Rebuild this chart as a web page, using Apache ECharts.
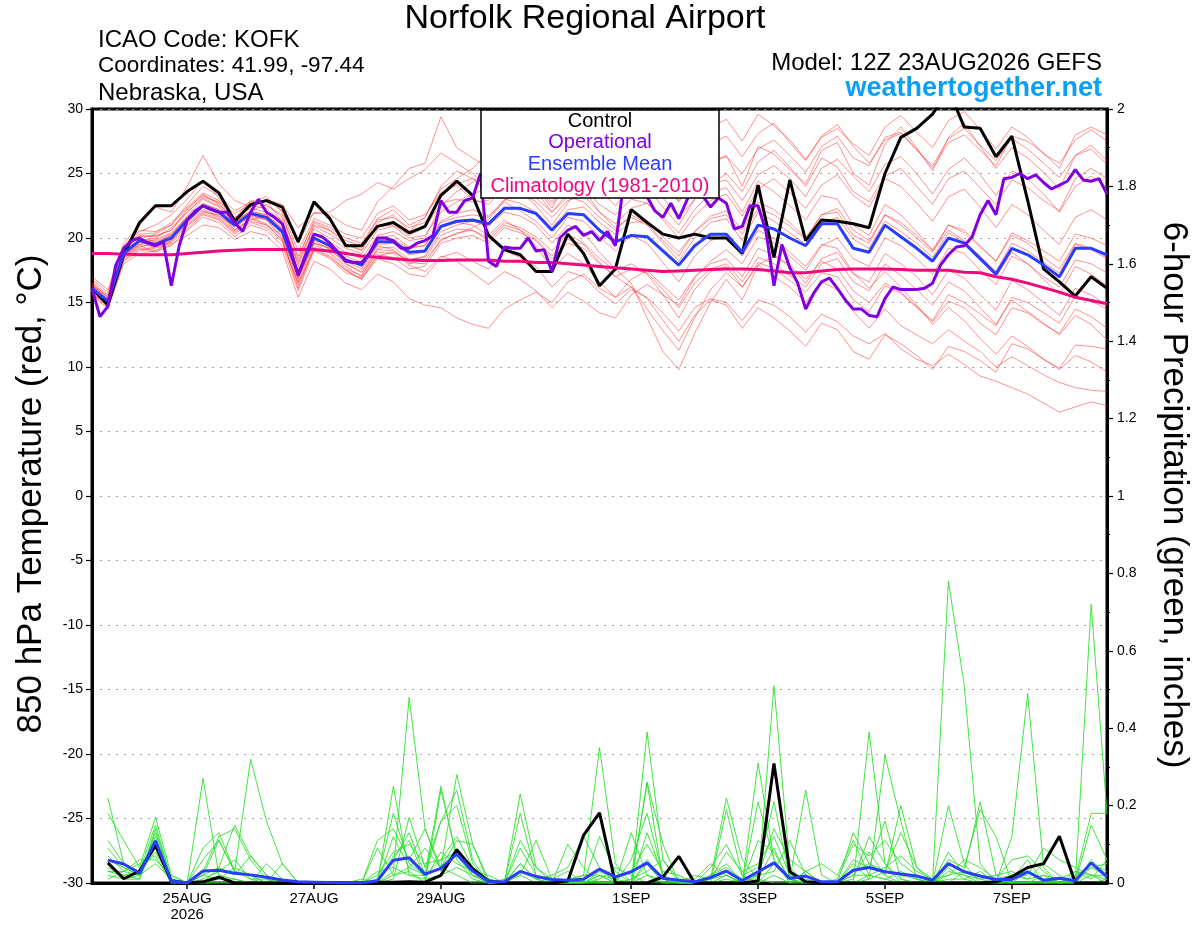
<!DOCTYPE html>
<html><head><meta charset="utf-8">
<script src="https://cdn.jsdelivr.net/npm/echarts@6.0.0/dist/echarts.min.js"></script>
<style>html,body{margin:0;padding:0;background:#fff}#chart{width:1200px;height:927px}</style>
</head><body><div id="chart"></div>
<script>
// ---- tick labels (hours after 12Z 23AUG2026) ----
const tickHours = [36, 84, 132, 204, 252, 300, 348];
const tickLabels = ['25AUG\n2026', '27AUG', '29AUG', '1SEP', '3SEP', '5SEP', '7SEP'];

// ---- 850 hPa temperature, 6-hourly (65 values, 0..384 h) ----
const control = [16.1,14.8,18.7,21.2,22.5,22.5,23.6,24.4, 23.5,21.3,22.6,22.9,22.4,19.7,22.8,21.5,
  19.4,19.4,20.9,21.2,20.4,20.9,23.3,24.4, 23.3,20.2,19.1,18.7,17.4,17.4,20.3,18.8,
  16.3,17.6,22.2,21.2,20.3,20.0,20.3,20.0, 20.0,18.8,24.1,18.5,24.5,19.8,21.4,21.3,
  21.1,20.8,25.0,27.8,28.5,29.6,31.5,28.6, 28.5,26.3,27.9,22.9,17.6,16.6,15.5,17.0, 16.1];
const ensMean = [16.1,15.1,18.8,19.8,19.5,20.0,21.4,22.5, 22.0,21.0,21.9,21.6,20.5,17.2,20.0,19.4,
  18.3,17.9,19.7,19.7,18.9,19.0,20.9,21.3, 21.4,21.1,22.3,22.3,21.9,20.6,21.9,21.8,
  20.6,19.7,20.2,20.1,19.0,17.9,19.4,20.3, 20.3,18.9,21.0,20.7,20.0,19.4,21.1,21.1,
  19.2,18.9,21.0,20.1,19.2,18.2,20.0,19.6, 18.4,17.2,19.2,18.7,17.9,17.0,19.2,19.2, 18.7];
const climatology = [18.8,18.8,18.75,18.7,18.7,18.7,18.8,18.9, 19.0,19.05,19.1,19.1,19.1,19.1,19.1,19.0,
  18.8,18.6,18.5,18.4,18.3,18.25,18.25,18.3, 18.3,18.3,18.2,18.2,18.1,18.1,18.0,17.9,
  17.8,17.7,17.6,17.5,17.4,17.45,17.5,17.55, 17.6,17.6,17.55,17.45,17.3,17.3,17.45,17.55,
  17.6,17.6,17.6,17.55,17.5,17.5,17.5,17.35, 17.3,17.0,16.8,16.5,16.15,15.8,15.4,15.15, 14.9];
// operational run, 3-hourly (129 values)
const operational = [16.1,13.9,14.7,17.9,19.2,19.8,20.0,19.6,19.4,19.7,16.3,19.4,21.4,22.1,22.5,22.2,
  22.0,22.0,21.2,20.5,22.0,23.0,22.0,21.6,21.1,19.2,17.1,18.8,20.3,20.1,19.6,18.9,
  18.2,18.1,18.1,18.8,20.0,20.0,19.8,19.2,19.2,19.6,19.8,20.2,22.9,22.0,22.0,22.9,
  23.1,25.0,18.2,17.8,19.3,19.2,19.2,20.0,19.0,19.1,17.4,20.0,20.6,20.9,20.2,20.5,
  19.8,20.5,19.4,24.0,25.5,25.0,23.2,22.1,21.6,22.7,21.5,22.9,24.0,23.3,22.4,23.1,
  22.7,20.7,20.9,22.5,22.5,20.5,16.3,19.5,17.7,16.5,14.5,15.7,16.6,16.9,16.1,15.2,
  14.5,14.5,14.0,13.9,15.3,16.2,16.0,16.0,16.0,16.1,16.5,17.9,18.7,19.3,19.4,20.1,
  21.8,22.9,21.8,24.6,24.7,25.0,24.6,24.9,24.3,23.8,24.1,24.4,25.3,24.5,24.4,24.6, 23.4];

// ensemble members (temperature)
const tm01 = [16.5,15.4,19.2,20.5,21.0,21.8,23.0,24.5, 23.1,21.5,22.4,22.9,21.2,18.0,21.0,20.6, 19.5,19.0,21.2,21.8,20.5,21.6,24.0,25.2, 24.6,23.5,25.8,26.1,24.9,23.2,25.0,26.4, 25.1,23.8,24.6,26.0,24.2,22.8,24.5,25.8, 26.4,24.0,27.1,26.5,25.3,24.2,26.8,27.4, 25.0,24.1,27.3,28.6,27.0,25.2,27.8,28.9, 27.1,25.4,27.0,26.2,25.1,23.8,26.4,27.2, 26.0];
const tm02 = [15.7,14.6,18.2,19.0,19.2,19.6,20.7,21.8, 21.4,20.3,21.2,20.8,19.7,16.5,19.1,18.5, 17.5,16.8,18.4,18.0,17.2,17.0,18.5,18.9, 18.2,17.6,19.0,18.5,17.8,16.2,17.4,17.0, 15.8,14.9,16.0,15.4,14.2,12.8,14.6,15.3, 15.0,13.6,15.2,14.8,13.9,12.7,14.1,13.5, 12.4,11.8,12.6,11.4,10.6,10.1,11.0,10.2, 9.3,8.9,8.4,7.9,7.2,6.5,6.9,7.3, 7.0];
const tm03 = [16.0,15.0,18.5,19.4,19.0,19.8,21.0,22.0, 21.8,20.6,21.5,21.0,20.2,17.0,19.6,19.2, 18.0,17.4,19.4,19.1,18.0,18.3,19.8,20.4, 20.6,20.0,21.2,20.8,20.1,19.0,20.3,19.6, 18.4,17.5,18.0,17.2,15.6,13.8,16.0,17.4, 17.8,16.2,17.9,17.0,16.2,15.0,16.6,16.0, 14.3,13.0,14.5,13.2,12.5,11.8,12.9,12.0, 11.2,10.0,10.8,10.1,9.4,8.8,8.4,8.2, 8.1];
const tm04 = [16.3,15.3,19.0,20.2,20.1,20.6,22.2,23.4, 22.6,21.6,22.3,22.0,21.4,17.8,20.7,20.0, 19.2,18.8,20.6,20.9,20.0,20.2,22.0,22.8, 23.4,23.9,24.6,24.0,23.1,22.0,23.5,23.9, 22.6,21.8,23.0,22.7,21.6,20.4,22.2,23.5, 23.9,22.0,24.4,23.6,22.5,21.4,23.3,23.0, 21.0,20.2,22.6,21.8,20.5,19.0,20.6,19.8, 18.5,17.0,18.9,18.0,16.8,15.6,17.8,17.2, 16.3];
const tm05 = [16.8,15.8,19.4,20.6,20.5,21.0,22.6,24.0, 23.3,22.1,22.8,23.2,22.0,19.0,21.5,21.0, 20.3,20.0,21.9,22.5,21.4,21.8,23.5,24.1, 23.0,22.6,24.0,24.9,24.0,22.3,24.6,25.5, 24.8,24.2,25.7,26.8,25.4,24.1,26.0,27.3, 27.9,26.3,28.1,28.9,27.4,26.0,27.8,28.5, 27.3,26.4,28.6,29.5,28.2,27.0,29.1,29.8, 28.4,26.9,28.6,27.8,26.5,25.8,27.6,28.4, 27.5];
const tm06 = [15.9,14.9,18.6,19.5,19.3,19.8,21.2,22.4, 21.9,20.8,21.7,21.4,20.0,16.6,19.5,18.9, 17.8,17.0,19.2,19.3,18.3,18.6,20.5,21.0, 21.3,20.9,22.0,21.7,21.0,19.6,21.0,20.4, 18.9,17.6,16.5,13.8,11.2,9.8,12.6,15.0, 16.8,15.2,17.9,18.6,17.8,16.5,18.4,18.9, 17.2,16.6,18.8,18.0,17.0,15.6,17.5,16.9, 15.6,14.4,16.7,16.0,15.0,14.0,16.1,15.6, 14.8];
const tm07 = [16.4,15.2,18.9,19.9,19.8,20.3,21.7,23.0, 22.4,21.2,22.1,21.8,20.8,17.4,20.3,19.7, 18.9,18.4,20.2,20.5,19.8,20.0,22.5,23.6, 24.3,25.1,26.3,26.9,26.0,24.4,25.7,26.8, 26.0,24.6,25.3,24.8,23.1,21.6,23.0,24.2, 24.5,22.9,24.9,25.6,24.6,23.2,25.4,26.1, 24.8,23.6,25.7,26.3,25.0,23.4,25.3,26.2, 24.9,23.3,25.2,24.6,23.4,22.0,24.0,24.8, 23.9];
const tm08 = [15.6,14.5,18.0,18.8,19.0,19.5,20.2,21.0, 20.8,19.9,20.5,20.2,19.0,15.4,18.2,17.6, 16.5,16.0,17.2,16.6,15.3,14.8,14.6,13.8, 13.3,13.0,14.5,15.2,15.8,15.0,16.6,17.2, 16.1,15.4,16.8,17.5,16.3,15.2,17.0,18.0, 18.4,17.0,19.2,18.7,17.9,16.8,18.2,17.6, 15.9,15.0,16.5,15.8,14.7,13.5,15.1,14.6, 13.4,12.5,14.6,14.2,13.3,12.6,14.5,13.9, 13.0];
const tm09 = [16.2,15.1,18.8,19.8,20.0,20.8,22.0,23.2, 22.8,21.9,22.6,23.0,22.1,19.6,22.0,21.8, 21.0,20.6,22.8,24.0,25.4,25.8,29.4,27.0, 26.2,25.5,26.8,25.6,24.0,22.6,24.1,23.8, 22.0,20.8,21.6,21.0,19.6,18.2,20.0,21.2, 21.5,19.8,22.0,21.3,20.4,19.5,21.2,21.6, 19.9,19.2,21.3,20.5,19.6,18.5,20.4,19.7, 18.6,17.4,19.6,19.0,18.1,17.3,19.5,19.1, 18.4];
const tm10 = [15.8,14.8,18.4,19.2,18.9,19.4,20.6,21.6, 21.2,20.1,21.0,20.6,19.4,15.9,19.0,18.4, 17.3,16.9,18.7,18.5,17.6,17.8,19.6,20.0, 20.2,19.6,20.8,20.4,19.8,18.4,19.6,19.2, 18.0,17.0,17.6,17.3,16.0,14.6,16.5,17.6, 18.0,16.6,18.5,18.0,17.1,16.2,18.0,18.4, 16.6,15.9,18.0,17.1,16.0,14.8,16.6,15.9, 14.6,13.3,15.2,14.3,13.4,12.5,14.0,13.3, 12.1];
const tm11 = [17.0,16.0,19.6,21.0,22.4,22.0,24.0,26.4, 24.2,22.9,22.4,23.0,22.6,20.8,21.9,22.0, 22.9,23.4,24.3,23.8,24.6,25.3,26.6,25.8, 25.0,24.0,25.2,24.5,23.6,22.0,23.2,22.8, 21.6,20.6,21.8,21.1,19.8,18.6,20.5,21.7, 22.1,20.6,22.8,22.2,21.2,20.0,21.8,22.3, 20.6,19.8,21.8,21.0,20.0,18.9,21.0,20.4, 19.3,18.2,20.4,19.8,19.0,18.2,20.3,20.0, 19.4];
const tm12 = [16.0,15.0,18.7,19.6,19.6,20.2,21.5,22.6, 22.2,21.0,21.9,21.5,20.5,17.1,19.9,19.3, 18.2,17.6,19.5,19.6,18.7,18.9,20.8,21.2, 21.0,20.2,21.4,20.6,19.4,17.6,18.8,18.0, 16.6,15.4,16.2,15.3,13.6,12.0,14.0,15.2, 14.8,13.0,14.6,13.8,12.8,11.6,13.4,12.9, 11.2,10.6,12.5,11.8,10.9,9.8,11.6,11.2, 10.5,9.6,11.8,11.4,10.6,9.9,11.7,11.6, 11.4];
const tm13 = [16.6,15.6,19.3,20.3,20.4,21.2,22.4,23.5, 22.9,21.5,22.9,22.5,21.8,18.4,21.3,20.8, 20.0,19.6,21.5,22.2,21.0,21.6,23.8,24.6, 25.4,26.6,27.9,28.4,27.2,25.0,26.5,27.9, 27.1,25.8,27.5,28.8,27.0,25.4,27.2,28.6, 29.2,27.5,29.6,28.7,27.6,26.1,27.9,28.8, 27.1,25.8,27.6,28.1,26.9,25.4,27.4,28.0, 26.8,25.6,27.9,27.5,26.6,25.4,28.0,28.6, 28.0];
const tm14 = [16.1,15.2,18.9,19.7,19.4,20.0,21.3,22.2, 21.7,20.9,21.8,21.4,20.3,16.8,19.8,19.1, 18.0,17.3,19.1,19.0,18.1,18.0,19.9,20.3, 20.8,21.4,22.9,23.5,22.8,21.6,22.9,23.3, 22.0,21.1,22.3,22.7,21.4,20.0,21.7,22.9, 23.4,21.7,23.8,24.6,23.5,22.3,24.1,24.9, 23.3,22.4,24.6,24.0,22.7,21.3,23.2,23.8, 22.4,20.8,22.6,21.8,20.6,19.5,21.6,22.2, 21.4];
const tm15 = [15.9,15.0,18.6,19.5,19.9,20.4,21.6,22.5, 22.1,20.6,21.4,21.7,20.6,16.9,19.6,19.2, 18.4,17.8,19.9,19.9,19.2,19.4,21.3,21.9, 22.2,21.7,22.8,22.1,21.3,20.0,21.6,21.3, 20.1,19.0,20.2,19.6,18.1,16.6,18.6,19.8, 20.2,18.6,20.6,20.0,18.9,17.8,19.5,19.2, 17.3,16.1,17.4,16.2,14.8,13.3,14.6,13.6, 12.2,11.0,12.4,11.6,10.6,9.8,10.9,10.4, 9.6];
const tm16 = [16.4,15.5,19.1,20.1,20.2,20.6,22.0,23.1, 22.5,21.4,22.5,22.3,21.2,18.2,20.9,20.3, 19.5,19.1,20.9,21.0,20.2,20.8,22.7,23.0, 22.8,22.9,24.3,23.6,22.5,21.0,22.7,24.6, 23.8,22.5,24.0,23.9,22.4,21.0,23.0,24.1, 25.0,23.6,25.9,26.8,25.5,24.0,26.2,25.5, 23.6,22.8,24.8,25.4,24.0,22.6,24.6,25.2, 23.9,22.6,24.5,23.9,22.9,22.1,24.6,25.4, 24.6];
const tm17 = [15.8,14.7,18.3,19.1,19.3,19.7,20.9,21.9, 21.5,20.4,21.3,21.0,19.9,16.3,19.3,18.8, 17.6,17.1,18.9,18.8,17.9,17.4,18.6,18.2, 17.3,16.4,17.4,16.8,15.9,14.6,15.8,15.1, 14.2,13.8,15.6,16.4,15.6,14.8,16.9,18.2, 19.1,18.0,20.1,19.6,18.6,17.5,19.4,20.0, 18.4,17.8,20.0,19.4,18.4,17.2,19.2,18.8, 17.5,16.4,18.6,18.0,17.0,16.2,18.3,18.0, 17.3];
const tm18 = [16.3,15.4,19.0,19.9,20.3,21.0,22.3,23.3, 22.7,21.3,22.1,22.6,21.6,18.6,21.2,20.6, 19.8,19.4,21.4,21.6,20.8,21.2,23.2,24.2, 24.6,24.3,25.6,25.1,24.2,22.8,24.4,25.1, 24.2,23.2,24.8,25.2,24.0,22.9,24.7,25.9, 26.3,25.0,26.9,27.6,26.4,25.1,27.1,27.9, 26.2,25.6,27.8,28.2,26.8,25.6,27.7,28.5, 27.2,26.0,27.7,26.9,25.8,24.7,26.4,26.9, 25.7];
const tm19 = [15.7,14.8,18.5,19.3,19.6,20.0,21.1,22.1, 21.6,20.5,21.6,21.1,19.8,16.1,19.2,18.6, 17.5,16.8,18.6,18.9,18.3,18.5,20.2,20.7, 20.6,19.8,21.0,20.6,19.9,18.6,19.9,19.5, 18.1,17.0,16.2,14.5,12.8,11.3,13.8,16.0, 17.3,16.2,18.1,17.6,16.7,15.8,17.3,17.0, 15.2,14.3,16.3,15.7,14.6,13.6,15.6,15.0, 14.1,13.2,15.4,15.0,14.2,13.4,15.5,15.1, 14.5];
const tm20 = [16.2,15.2,18.9,19.9,19.7,20.2,21.6,22.7, 22.2,21.2,22.0,21.8,20.7,17.5,20.4,19.6, 18.6,18.1,20.0,20.2,19.3,19.4,21.2,21.6, 21.8,21.6,23.0,22.7,22.0,20.8,22.2,22.4, 21.2,20.3,21.2,21.3,20.1,18.9,20.5,21.5, 21.8,20.3,22.3,21.8,20.9,19.9,21.8,22.0, 20.2,19.6,21.8,21.2,20.2,19.1,21.0,20.6, 19.4,18.2,20.2,19.6,18.5,17.6,19.6,19.2, 18.5];
const tempMembers = [tm01,tm02,tm03,tm04,tm05,tm06,tm07,tm08,tm09,tm10,tm11,tm12,tm13,tm14,tm15,tm16,tm17,tm18,tm19,tm20];

// ---- 6-hour precipitation, inches (64 values, 6..384 h) ----
const controlPrecip = [0.052,0.011,0.031,0.097,0.005,0,0.003,0.015, 0,0,0,0,0,0,0,0, 0,0.002,0.002,0.003,0.002,0.020,0.086,0.037, 0.005,0,0,0,0,0.005,0.124,0.181, 0,0,0,0.016,0.069,0,0,0, 0,0.005,0.309,0.029,0.003,0,0,0, 0,0,0,0,0,0,0,0, 0.003,0.016,0.040,0.050,0.121,0,0,0];
const meanPrecip = [0.059,0.049,0.025,0.109,0.005,0,0.031,0.033, 0.025,0.021,0.015,0.008,0.003,0.002,0.001,0, 0,0.006,0.059,0.065,0.023,0.038,0.075,0.031, 0.004,0.003,0.030,0.017,0.009,0.007,0.010,0.036, 0.016,0.029,0.052,0.012,0.007,0.003,0.014,0.031, 0.006,0.029,0.052,0.012,0.018,0.003,0.003,0.033, 0.040,0.029,0.023,0.018,0.007,0.050,0.029,0.018, 0.009,0.009,0.029,0.007,0.012,0.006,0.052,0.016];
const pm01 = [0.04,0.02,0.03,0.12,0.01,0,0,0, 0,0,0,0,0,0,0,0, 0,0.01,0.18,0.05,0.02,0.25,0.06,0.01, 0,0,0,0,0,0,0.02,0.35, 0.05,0,0.06,0.01,0,0,0,0.02, 0,0,0.51,0.04,0,0,0,0, 0.02,0.01,0,0,0,0.04,0.01,0, 0,0,0.03,0,0,0,0.72,0.18];
const pm02 = [0.22,0.05,0.03,0.08,0.01,0,0.27,0.02, 0.01,0,0,0,0,0,0,0, 0,0,0.03,0.48,0.14,0.03,0.09,0.03, 0,0,0.05,0.01,0,0,0,0, 0,0.13,0.02,0,0,0,0,0.01, 0,0.31,0.06,0,0.03,0,0,0.13, 0.05,0.02,0,0,0,0.78,0.51,0.05, 0,0,0,0,0,0,0.02,0];
const pm03 = [0.18,0.11,0.04,0.17,0.02,0,0.03,0.12, 0.14,0.06,0.01,0,0,0,0,0, 0,0,0.06,0.13,0.02,0.04,0.28,0.10, 0.01,0,0.23,0.04,0,0,0,0.12, 0.03,0,0.39,0.06,0,0,0,0, 0,0,0.05,0.01,0.24,0.02,0,0, 0.39,0.05,0.01,0,0,0.02,0.03,0.21, 0.02,0,0,0,0,0.03,0.01,0.06];
const pm04 = [0.11,0.05,0.03,0.15,0.01,0,0,0.04, 0.15,0.07,0.02,0,0,0,0,0, 0,0.11,0.14,0.06,0.14,0.04,0.02,0, 0,0,0.02,0.11,0.01,0,0,0.02, 0,0,0.26,0.01,0,0,0.01,0.22, 0.06,0.01,0,0,0,0,0,0.05, 0.01,0.33,0.16,0.01,0,0,0,0, 0,0.12,0.49,0.04,0,0,0,0.01];
const pm05 = [0.03,0.03,0.02,0.09,0,0,0.02,0.11, 0.03,0.32,0.16,0.05,0,0,0,0, 0,0,0.02,0.03,0,0.24,0.07,0.02, 0,0,0,0,0,0,0,0.01, 0.04,0.02,0,0,0,0,0,0.19, 0.02,0.04,0.21,0.01,0,0,0,0.02, 0.08,0.02,0.20,0.04,0,0.20,0.05,0, 0,0,0,0.02,0,0.01,0.18,0.18];
const pm06 = [0.05,0.01,0.01,0.14,0.01,0,0.06,0.11, 0.03,0.01,0,0,0,0,0,0, 0.01,0,0.25,0.02,0.01,0.02,0.04,0.02, 0,0,0.18,0.02,0,0,0,0, 0,0,0.26,0.10,0,0,0.04,0.10, 0.02,0,0.02,0,0,0,0,0.06, 0.04,0.16,0.01,0,0,0.08,0.02,0, 0,0.01,0.06,0,0,0,0.15,0.06];
const pm07 = [0.02,0.01,0.02,0.10,0,0,0,0, 0,0,0,0.05,0,0,0,0, 0,0,0.01,0.17,0.04,0.16,0.20,0.05, 0,0,0,0,0,0.10,0.04,0, 0,0,0.05,0,0,0,0.02,0.05, 0,0.21,0.06,0.01,0,0,0,0.01, 0.12,0.05,0,0,0,0.06,0.04,0.19, 0.12,0,0,0,0.01,0.03,0.02,0.01];
const pm08 = [0.06,0.04,0.02,0.13,0.01,0,0.02,0.04, 0.02,0.07,0.02,0,0,0,0,0, 0,0,0.12,0.04,0.02,0.06,0.08,0.02, 0.01,0,0.09,0.02,0.01,0.03,0,0.03, 0.01,0,0.02,0.01,0,0.02,0.01,0.08, 0.03,0.05,0.12,0.02,0.01,0,0,0.03, 0.05,0.03,0.02,0.01,0,0.05,0.03,0.01, 0,0.02,0.03,0.01,0,0.01,0.05,0.03];
const pm09 = [0.03,0.02,0.01,0.11,0.01,0,0,0.01, 0.04,0.02,0,0,0,0,0,0, 0,0.03,0.04,0.02,0.02,0.16,0.24,0.06, 0,0,0.05,0.01,0.02,0.04,0.12,0.04, 0,0,0.13,0.02,0,0,0.01,0.02, 0,0.02,0.03,0.11,0.02,0,0,0.02, 0.02,0.04,0.07,0.03,0.01,0.02,0.06,0.04, 0.01,0.02,0.01,0.05,0.02,0,0.06,0.02];
const pm10 = [0.01,0.03,0.06,0.06,0.02,0,0.01,0.03, 0.06,0.01,0.01,0,0,0,0,0, 0,0.02,0.08,0.10,0.05,0.06,0.12,0.04, 0.01,0,0.03,0.01,0,0.01,0.02,0.02, 0.01,0.03,0.10,0.03,0.02,0,0.02,0.04, 0.01,0.02,0.14,0.06,0.03,0,0.01,0.10, 0.07,0.11,0.05,0.02,0,0.03,0.02,0.01, 0.02,0.03,0.01,0.02,0.01,0,0.04,0.02];
const pm11 = [0.07,0.03,0.05,0.07,0,0,0.02,0.01, 0.01,0,0.05,0.01,0,0,0,0, 0,0.09,0.02,0.04,0.09,0.04,0.11,0.10, 0,0.01,0.02,0,0,0,0,0, 0,0.06,0.18,0.02,0,0,0,0, 0.01,0.01,0.09,0,0.03,0.05,0.02,0.11, 0.02,0.01,0.03,0.01,0,0.01,0.01,0.03, 0,0.02,0.02,0.09,0.06,0.04,0.02,0.02];
const pm12 = [0.09,0.04,0.02,0.05,0.01,0,0.09,0.13, 0.03,0.02,0,0,0,0,0,0, 0,0,0.07,0.11,0.01,0.08,0.05,0.03, 0.02,0,0.11,0.04,0.01,0,0,0.02, 0,0.01,0.03,0.06,0.01,0.01,0.05,0.02, 0,0.11,0.08,0.01,0,0,0,0, 0.01,0.03,0.13,0.04,0.01,0,0.03,0.02, 0.01,0.06,0.07,0.03,0,0.02,0.04,0.05];
const precipMembers = [pm01,pm02,pm03,pm04,pm05,pm06,pm07,pm08,pm09,pm10,pm11,pm12];

// ---- build chart ----
const FONT = "'Liberation Sans', Arial, Helvetica, sans-serif";
const C_OP = '#8000e0', C_MEAN = '#2a3cff', C_CLIM = '#f0087f';
const at6 = a => a.map((v, i) => [i * 6, v]);
const at3 = a => a.map((v, i) => [i * 3, v]);
const atP = a => a.map((v, i) => [(i + 1) * 6, v]);
const line = (data, color, width, yAxisIndex, z) => ({
  type: 'line', data, yAxisIndex, symbol: 'none', silent: true, animation: false,
  lineStyle: { color, width }, z, clip: true
});
const series = [];
tempMembers.forEach(m => series.push(line(at6(m), 'rgba(255,30,30,0.62)', 0.8, 0, 2)));
precipMembers.forEach(m => series.push(line(atP(m), '#2ee02e', 0.9, 1, 2)));
series.push(line(at6(control), '#000000', 3, 0, 3));
series.push(line(atP(controlPrecip), '#000000', 3, 1, 3));
series.push(line(at6(climatology), C_CLIM, 3, 0, 4));
series.push(line(at6(ensMean), C_MEAN, 3, 0, 5));
series.push(line(atP(meanPrecip), C_MEAN, 3, 1, 5));
series.push(line(at3(operational), C_OP, 3, 0, 6));

const txt = (text, x, y, size, opts) => Object.assign({
  type: 'text', x, y, z: 100, silent: true,
  style: Object.assign({ text, font: size + 'px ' + FONT, fill: '#000', textAlign: 'left', textVerticalAlign: 'middle' }, (opts && opts.style) || {})
}, opts && opts.rotation !== undefined ? { rotation: opts.rotation } : {});

const chart = echarts.init(document.getElementById('chart'), null, { renderer: 'canvas' });
chart.setOption({
  backgroundColor: '#fff',
  animation: false,
  textStyle: { fontFamily: FONT },
  grid: { left: 92, top: 109, right: 93, bottom: 44, show: true, borderColor: '#000', borderWidth: 3, backgroundColor: 'transparent' },
  xAxis: {
    type: 'value', min: 0, max: 384,
    axisLine: { show: true, onZero: false, lineStyle: { color: '#000', width: 3 } },
    axisTick: { show: true, customValues: tickHours, length: 6, lineStyle: { color: '#000', width: 1.5 } },
    axisLabel: { customValues: tickHours, color: '#000', fontSize: 15, lineHeight: 16, margin: 8, fontFamily: FONT,
      formatter: v => { const k = tickHours.indexOf(Math.round(v)); return k >= 0 ? tickLabels[k] : ''; } },
    splitLine: { show: false }
  },
  yAxis: [
    { type: 'value', min: -30, max: 30, interval: 5, position: 'left',
      axisLine: { show: true, onZero: false, lineStyle: { color: '#000', width: 3 } },
      axisTick: { show: true, length: 6, lineStyle: { color: '#000', width: 1.2 } },
      axisLabel: { color: '#000', fontSize: 14, margin: 9, fontFamily: FONT },
      splitLine: { show: true, lineStyle: { color: '#a0a0a0', width: 1.2, type: [2, 6] } } },
    { type: 'value', min: 0, max: 2, interval: 0.2, position: 'right',
      axisLine: { show: true, onZero: false, lineStyle: { color: '#000', width: 3 } },
      axisTick: { show: true, length: 6, lineStyle: { color: '#000', width: 1.2 } },
      minorTick: { show: true, splitNumber: 2, length: 3, lineStyle: { color: '#000', width: 1 } },
      axisLabel: { color: '#000', fontSize: 14, margin: 10, fontFamily: FONT },
      splitLine: { show: false }, minorSplitLine: { show: false } }
  ],
  series,
  graphic: [
    txt('Norfolk Regional Airport', 585, 19, 34, { style: { textAlign: 'center' } }),
    txt('ICAO Code: KOFK', 98, 40, 24),
    txt('Coordinates: 41.99, -97.44', 98, 66, 22.5),
    txt('Nebraska, USA', 98, 93, 24),
    txt('Model: 12Z 23AUG2026 GEFS', 1102, 63, 24, { style: { textAlign: 'right' } }),
    txt('weathertogether.net', 1102, 89, 27, { style: { textAlign: 'right', fill: '#0aa0f5', font: 'bold 27px ' + FONT } }),
    txt('850 hPa Temperature (red, °C)', 31, 494, 35, { style: { textAlign: 'center' }, rotation: Math.PI / 2 }),
    txt('6-hour Precipitation (green, inches)', 1174, 495, 35, { style: { textAlign: 'center' }, rotation: -Math.PI / 2 }),
    { type: 'rect', z: 99, silent: true, shape: { x: 481, y: 110, width: 238, height: 88 },
      style: { fill: '#fff', stroke: '#000', lineWidth: 1.5 } },
    txt('Control', 600, 121, 20, { style: { textAlign: 'center' } }),
    txt('Operational', 600, 142, 20, { style: { textAlign: 'center', fill: C_OP } }),
    txt('Ensemble Mean', 600, 164, 20, { style: { textAlign: 'center', fill: C_MEAN } }),
    txt('Climatology (1981-2010)', 600, 186, 20, { style: { textAlign: 'center', fill: C_CLIM } })
  ]
});
</script></body></html>
